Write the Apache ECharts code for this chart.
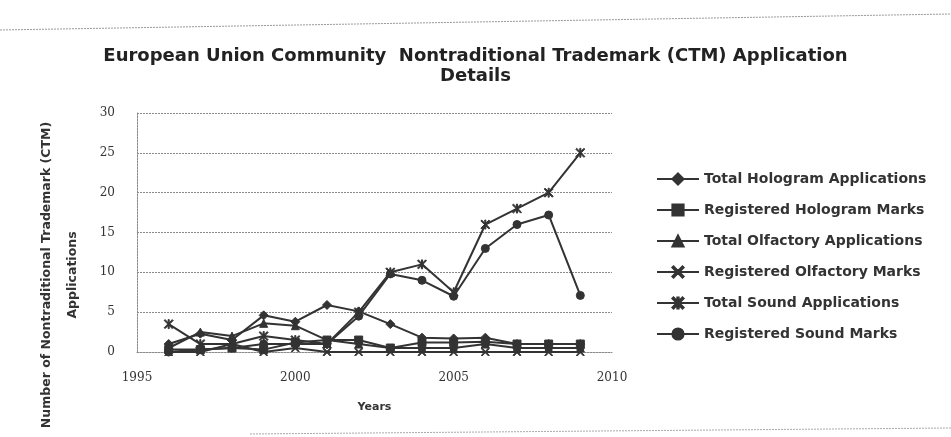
<!DOCTYPE html>
<html>
<head>
<meta charset="utf-8">
<title>EU CTM Nontraditional Trademark Applications</title>
<script src="https://cdn.jsdelivr.net/npm/echarts@6/dist/echarts.min.js"></script>
<style>
  html, body { margin: 0; padding: 0; background: #fff; }
  #chart { width: 951px; height: 437px; }
</style>
</head>
<body>
<div id="chart"></div>
<script>
// years on the x axis
const years = [1996, 1997, 1998, 1999, 2000, 2001, 2002, 2003, 2004, 2005, 2006, 2007, 2008, 2009]

// values
const totalHologram = [1, 2.3, 1.5, 4.6, 3.8, 5.9, 5.1, 3.5, 1.8, 1.7, 1.8, 1, 1, 1]
const registeredHologram = [0.3, 0.3, 0.5, 0.3, 1.2, 1.5, 1.5, 0.5, 1.2, 1.2, 1.3, 1, 1, 1]
const totalOlfactory = [0.5, 2.5, 2, 3.6, 3.3, 1.5, 1, 0.5, 0.5, 0.5, 1, 0.5, 0.5, 0.5]
const registeredOlfactory = [0, 0, 1, 0, 0.5, 0, 0, 0, 0, 0, 0, 0, 0, 0]
const totalSound = [3.5, 1, 1, 2, 1.5, 1, 5, 10, 11, 7.5, 16, 18, 20, 25]
const registeredSound = [0, 0.3, 0.5, 1, 1, 1, 4.5, 9.8, 9, 7, 13, 16, 17.2, 7.1]

const seriesNames = [
  'Total Hologram Applications',
  'Registered Hologram Marks',
  'Total Olfactory Applications',
  'Registered Olfactory Marks',
  'Total Sound Applications',
  'Registered Sound Marks'
]

const xPath = 'path://M0,1L1,0L5,4L9,0L10,1L6,5L10,9L9,10L5,6L1,10L0,9L4,5Z'
const starPath = 'path://M0,1L1,0L5,4L9,0L10,1L6,5L10,9L9,10L5,6L1,10L0,9L4,5Z M4.4,0L5.6,0L5.6,10L4.4,10Z'

const ink = '#333'
const grid = '#8a8a8a'

function makeSeries(name, values, symbol, size) {
  return {
    name: name,
    type: 'line',
    data: values.map((v, i) => [years[i], v]),
    symbol: symbol,
    symbolSize: size,
    showSymbol: true,
    lineStyle: { color: ink, width: 2 },
    itemStyle: { color: ink, borderColor: ink, borderWidth: 1 }
  }
}

const chart = echarts.init(document.getElementById('chart'))
chart.setOption({
  backgroundColor: '#fff',
  animation: false,
  title: {
    text: 'European Union Community  Nontraditional Trademark (CTM) Application\nDetails',
    left: 'center',
    top: 41,
    textStyle: {
      fontFamily: 'DejaVu Sans',
      fontWeight: 'bold',
      fontSize: 18,
      lineHeight: 20,
      color: '#222'
    }
  },
  legend: {
    orient: 'vertical',
    left: 651,
    top: 167,
    itemWidth: 42,
    itemHeight: 14,
    itemGap: 17,
    data: seriesNames,
    textStyle: {
      fontFamily: 'DejaVu Sans',
      fontWeight: 'bold',
      fontSize: 14,
      color: '#333'
    }
  },
  grid: {
    left: 137,
    top: 113,
    right: 339,
    bottom: 85
  },
  xAxis: {
    type: 'value',
    min: 1995,
    max: 2010,
    interval: 5,
    name: 'Years',
    nameLocation: 'middle',
    nameGap: 50,
    nameTextStyle: {
      fontFamily: 'DejaVu Sans',
      fontWeight: 'bold',
      fontSize: 11,
      color: '#333'
    },
    axisLine: { show: true, lineStyle: { color: grid, type: [2, 1] } },
    axisTick: { show: false },
    splitLine: { show: false },
    axisLabel: {
      formatter: v => String(v),
      margin: 20,
      fontFamily: 'DejaVu Serif',
      fontSize: 12,
      color: '#333'
    }
  },
  yAxis: {
    type: 'value',
    min: 0,
    max: 30,
    interval: 5,
    axisLine: { show: true, lineStyle: { color: grid, type: [2, 1] } },
    axisTick: { show: false },
    splitLine: { show: true, lineStyle: { color: grid, type: [2, 1], width: 1.2 } },
    axisLabel: {
      margin: 22,
      fontFamily: 'DejaVu Serif',
      fontSize: 12,
      color: '#333'
    }
  },
  graphic: [
    {
      type: 'line',
      shape: { x1: 0, y1: 30, x2: 951, y2: 14 },
      style: { stroke: '#999', lineWidth: 1, lineDash: [2, 1] }
    },
    {
      type: 'line',
      shape: { x1: 250, y1: 434, x2: 951, y2: 428 },
      style: { stroke: '#aaa', lineWidth: 1, lineDash: [2, 1] }
    },
    {
      type: 'text',
      x: 60,
      y: 275,
      rotation: Math.PI / 2,
      style: {
        text: 'Number of Nontraditional Trademark (CTM)\nApplications',
        fontFamily: 'DejaVu Sans',
        fontWeight: 'bold',
        fontSize: 12.5,
        lineHeight: 26,
        align: 'center',
        verticalAlign: 'middle',
        fill: '#333'
      }
    }
  ],
  series: [
    makeSeries(seriesNames[0], totalHologram, 'diamond', 9),
    makeSeries(seriesNames[1], registeredHologram, 'rect', 8),
    makeSeries(seriesNames[2], totalOlfactory, 'triangle', 8),
    makeSeries(seriesNames[3], registeredOlfactory, xPath, 8),
    makeSeries(seriesNames[4], totalSound, starPath, 9),
    makeSeries(seriesNames[5], registeredSound, 'circle', 8)
  ]
})
</script>
</body>
</html>
